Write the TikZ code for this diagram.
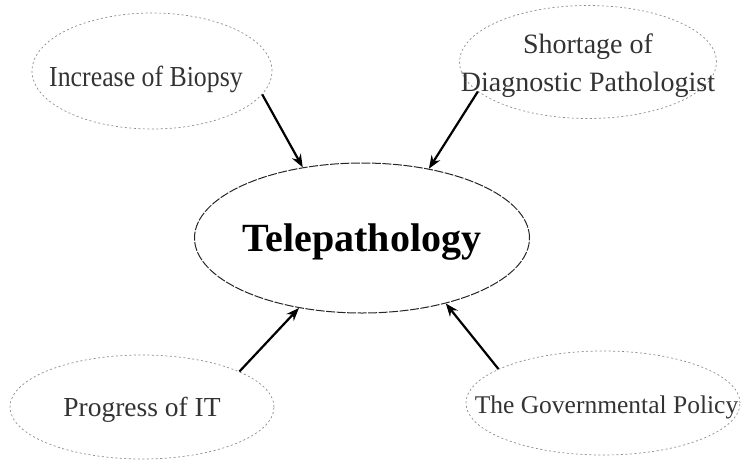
\documentclass[tikz,border=0pt]{standalone}
\usepackage{fontspec}
\setmainfont{Liberation Serif}
\usetikzlibrary{shapes.geometric,arrows.meta}
\newcommand{\basetext}[2]{\makebox[0pt]{\raisebox{#1}[0pt][0pt]{#2}}}
\tikzset{
  outer/.style={ellipse, draw=black!45, line width=0.7pt, dash pattern=on 2pt off 2.5pt,
    inner sep=0pt, text=black!80},
  hub/.style={ellipse, draw=black!85, line width=1pt, dash pattern=on 9pt off 1.5pt,
    inner sep=0pt, minimum width=335pt, minimum height=150pt,
    font=\fontsize{40}{46}\selectfont\bfseries},
  conn/.style={-{Stealth[length=13pt,width=10pt]}, line width=2.2pt, black}
}
\begin{document}
\begin{tikzpicture}[x=1pt,y=-1pt]
\useasboundingbox (0,0) rectangle (741,461);
\node[hub] (c) at (362,238) {\basetext{-13pt}{Telepathology}};
\node[outer, minimum width=240pt, minimum height=116pt, font=\fontsize{29}{33}\selectfont] (tl) at (152,71)
  {\basetext{-15pt}{\hspace{-12pt}\scalebox{0.89}[1]{Increase of Biopsy}}};
\node[outer, minimum width=257pt, minimum height=113pt, font=\fontsize{28}{38}\selectfont] (tr) at (588,62)
  {\basetext{-29pt}{\begin{tabular}[b]{@{}c@{}}Shortage of\\Diagnostic Pathologist\end{tabular}}};
\node[outer, minimum width=264pt, minimum height=104pt, font=\fontsize{27.5}{32}\selectfont] (bl) at (142,407)
  {\basetext{-9pt}{Progress of IT}};
\node[outer, minimum width=274pt, minimum height=104pt, font=\fontsize{25.5}{30}\selectfont] (br) at (603,403)
  {\basetext{-10pt}{\hspace{7pt}The Governmental Policy}};
\draw[conn] (tl.-12) -- (c.130.6);
\draw[conn] (tr.195.5) -- (c.46.2);
\draw[conn] (bl.20.4) -- (c.228.3);
\draw[conn] (br.162.6) -- (c.-38.7);
\end{tikzpicture}
\end{document}
